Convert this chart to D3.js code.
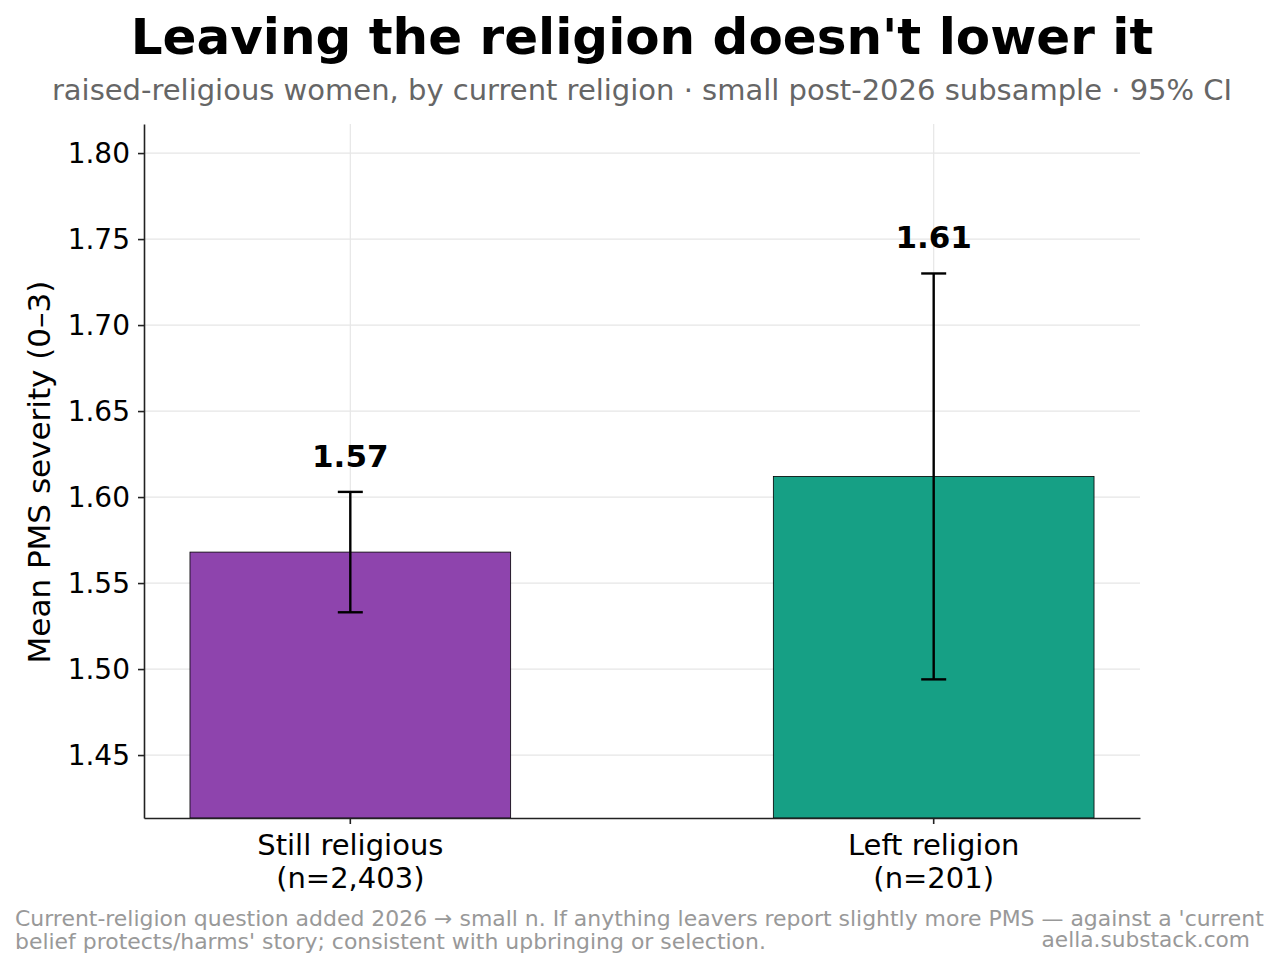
<!DOCTYPE html>
<html><head><meta charset="utf-8">
<script src="https://cdn.jsdelivr.net/npm/d3@7"></script>
<style>body{margin:0;background:#fff}svg{display:block}text{font-family:"DejaVu Sans",sans-serif}</style>
</head><body><svg id="c" width="1279" height="969"></svg>
<script>
const categories = ["Still religious\n(n=2,403)", "Left religion\n(n=201)"];
const means = [1.568, 1.612];
const ciLow = [1.533, 1.494];
const ciHigh = [1.603, 1.730];
const valueLabels = ["1.57", "1.61"];
const colors = ["#8e44ad", "#16a085"];
const yTicks = [1.45, 1.50, 1.55, 1.60, 1.65, 1.70, 1.75, 1.80];

const svg = d3.select("#c");
const L = 144, R = 1140, T = 124, B = 818;
const y = d3.scaleLinear().domain([1.4134, 1.8169]).range([B, T]);
const x = d3.scaleBand().domain(categories).range([L, R]).paddingInner(0.4503).paddingOuter(0.0788);

// grid
svg.append("g").selectAll("line").data(yTicks).join("line")
  .attr("x1", L).attr("x2", R).attr("y1", d => y(d)).attr("y2", d => y(d))
  .attr("stroke", "#e6e6e6").attr("stroke-width", 1.2);
svg.append("g").selectAll("line").data(categories).join("line")
  .attr("x1", d => x(d) + x.bandwidth()/2).attr("x2", d => x(d) + x.bandwidth()/2)
  .attr("y1", T).attr("y2", B).attr("stroke", "#e6e6e6").attr("stroke-width", 1.2);

// bars
svg.append("g").selectAll("rect").data(categories).join("rect")
  .attr("x", d => x(d)).attr("width", x.bandwidth())
  .attr("y", (d,i) => y(means[i])).attr("height", (d,i) => B - y(means[i]))
  .attr("fill", (d,i) => colors[i]).attr("stroke", "#000").attr("stroke-width", 0.8);

// error bars
const eb = svg.append("g").attr("stroke", "#000").attr("stroke-width", 2.4);
categories.forEach((c,i) => {
  const cx = x(c) + x.bandwidth()/2;
  eb.append("line").attr("x1", cx).attr("x2", cx).attr("y1", y(ciLow[i])).attr("y2", y(ciHigh[i]));
  eb.append("line").attr("x1", cx-12.5).attr("x2", cx+12.5).attr("y1", y(ciLow[i])).attr("y2", y(ciLow[i]));
  eb.append("line").attr("x1", cx-12.5).attr("x2", cx+12.5).attr("y1", y(ciHigh[i])).attr("y2", y(ciHigh[i]));
  svg.append("text").attr("x", cx).attr("y", y(ciHigh[i]) - 25).attr("text-anchor", "middle")
    .attr("font-size", 31).attr("font-weight", "bold").attr("fill", "#000").text(valueLabels[i]);
});

// axes
const yAxis = svg.append("g").attr("transform", `translate(${L},0)`)
  .call(d3.axisLeft(y).tickValues(yTicks).tickFormat(d3.format(".2f")).tickSize(6).tickSizeOuter(0).tickPadding(8));
const xAxis = svg.append("g").attr("transform", `translate(0,${B})`)
  .call(d3.axisBottom(x).tickSize(6).tickSizeOuter(0).tickFormat(""));
[yAxis, xAxis].forEach(g => {
  g.select(".domain").attr("stroke", "#222").attr("stroke-width", 1.6);
  g.selectAll(".tick line").attr("stroke", "#222").attr("stroke-width", 1.6);
});
yAxis.selectAll(".tick text").attr("font-size", 28).attr("fill", "#000").attr("font-family", "DejaVu Sans");
xAxis.selectAll(".tick").each(function(d) {
  const lines = d.split("\n");
  const t = d3.select(this).append("text").attr("text-anchor", "middle").attr("fill", "#000")
    .attr("font-size", 29).attr("font-family", "DejaVu Sans");
  lines.forEach((ln, k) => t.append("tspan").attr("x", 0).attr("y", 37 + k*33).text(ln));
});

// y label
svg.append("text").attr("transform", `translate(50,${(T+B)/2 + 1}) rotate(-90)`).attr("text-anchor", "middle")
  .attr("font-size", 31).attr("fill", "#000").text("Mean PMS severity (0–3)");

// titles
svg.append("text").attr("x", 642).attr("y", 54).attr("text-anchor", "middle").attr("font-size", 50)
  .attr("font-weight", "bold").attr("fill", "#000").text("Leaving the religion doesn't lower it");
svg.append("text").attr("x", 642).attr("y", 100).attr("text-anchor", "middle").attr("font-size", 29)
  .attr("fill", "#666").text("raised-religious women, by current religion · small post-2026 subsample · 95% CI");

// footer
const f = svg.append("text").attr("font-size", 21.95).attr("fill", "#999");
f.append("tspan").attr("x", 15).attr("y", 926).text("Current-religion question added 2026 → small n. If anything leavers report slightly more PMS — against a 'current");
f.append("tspan").attr("x", 15).attr("y", 949).text("belief protects/harms' story; consistent with upbringing or selection.");
svg.append("text").attr("x", 1250).attr("y", 947).attr("text-anchor", "end").attr("font-size", 21.7)
  .attr("fill", "#999").text("aella.substack.com");
</script></body></html>
